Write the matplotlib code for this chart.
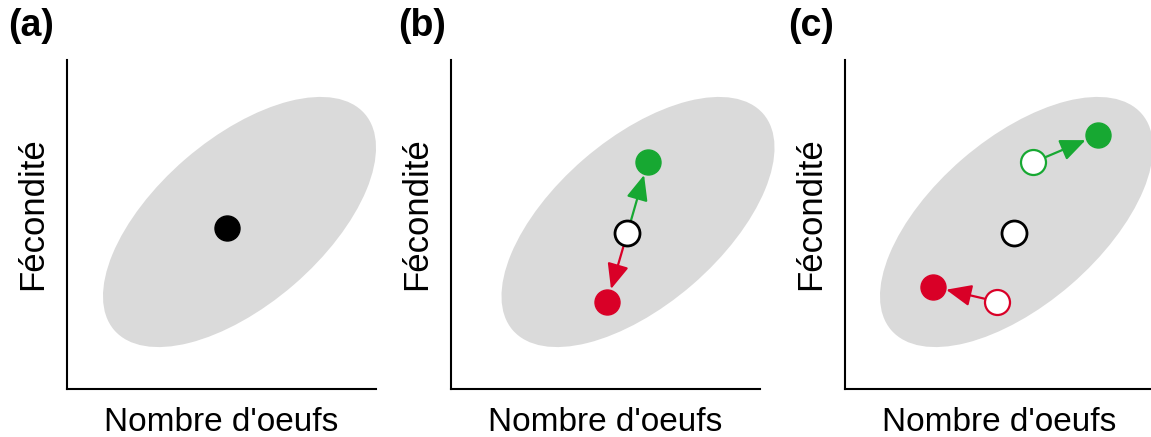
import matplotlib
matplotlib.use("Agg")
import matplotlib.pyplot as plt
from matplotlib.patches import Ellipse, FancyArrowPatch

plt.rcParams['font.family'] = ['Liberation Sans', 'DejaVu Sans']

# ---- data (arbitrary units, origin at axes corner) ----
panel_labels = ["(a)", "(b)", "(c)"]
xlabel = "Nombre d'oeufs"
ylabel = "Fécondité"
xlim = (0, 309)
ylim = (0, 329)

# ellipse (centre x, centre y, width, height, angle) per panel
ell_cx = [172.5, 187.0, 171.5]
ell_cy = [167.0, 167.0, 167.0]
ell_w = 331
ell_h = 166
ell_angle = 40.8

# panel a: mean phenotype
a_x = [160.3]
a_y = [161.3]

# panel b: centre (open black), green (up), red (down)
b_center = (176.3, 155.7)
b_green = (196.7, 226.7)
b_red = (156.3, 87.3)

# panel c: centre, green open -> green filled, red open -> red filled
c_center = (169.3, 155.7)
c_green_open = (188.3, 226.7)
c_green = (252.7, 254.0)
c_red_open = (152.3, 87.3)
c_red = (88.3, 102.3)

GREEN = "#17a832"
RED = "#d90027"
GRAY = "#dadada"

fig = plt.figure(figsize=(11.51, 4.37), dpi=100)
lefts = [67, 451, 845]
W, H = 1151, 437
axes = []
for i, l in enumerate(lefts):
    ax = fig.add_axes([l / W, (H - 389) / H, 309 / W, (389 - 60) / H])
    ax.set_xlim(*xlim)
    ax.set_ylim(*ylim)
    for s in ["top", "right"]:
        ax.spines[s].set_visible(False)
    for s in ["left", "bottom"]:
        ax.spines[s].set_linewidth(1.5)
    ax.set_xticks([])
    ax.set_yticks([])
    ax.set_xlabel(xlabel, fontsize=24, labelpad=13)
    ax.set_ylabel(ylabel, fontsize=25, labelpad=13)
    ax.yaxis.label.set_y(0.532)
    e = Ellipse((ell_cx[i], ell_cy[i]), ell_w, ell_h, angle=ell_angle,
                facecolor=GRAY, edgecolor="none", zorder=1, clip_on=False)
    ax.add_patch(e)
    fig.text((8 + i * 390) / W, 1 - 8 / H, panel_labels[i], fontsize=27,
             fontweight="bold", va="top", ha="left")
    axes.append(ax)

MS = 18


def arrow(ax, p0, p1, color):
    a = FancyArrowPatch(p0, p1, arrowstyle="-|>,head_length=0.7,head_width=0.3",
                        mutation_scale=22, color=color, lw=1.6,
                        shrinkA=9.5, shrinkB=9.5, zorder=3, clip_on=False)
    ax.add_patch(a)


# panel a
axes[0].plot(a_x, a_y, "o", ms=MS, color="black", zorder=5, clip_on=False)

# panel b
ax = axes[1]
arrow(ax, b_center, b_green, GREEN)
arrow(ax, b_center, b_red, RED)
ax.plot(*b_green, "o", ms=MS, color=GREEN, mec=GREEN, zorder=5)
ax.plot(*b_red, "o", ms=MS, color=RED, mec=RED, zorder=5)
ax.plot(*b_center, "o", ms=MS, mfc="white", mec="black", mew=2, zorder=5)

# panel c
ax = axes[2]
arrow(ax, c_green_open, c_green, GREEN)
arrow(ax, c_red_open, c_red, RED)
ax.plot(*c_green, "o", ms=MS, color=GREEN, mec=GREEN, zorder=5)
ax.plot(*c_red, "o", ms=MS, color=RED, mec=RED, zorder=5)
ax.plot(*c_green_open, "o", ms=MS, mfc="white", mec=GREEN, mew=1.6, zorder=5)
ax.plot(*c_red_open, "o", ms=MS, mfc="white", mec=RED, mew=1.6, zorder=5)
ax.plot(*c_center, "o", ms=MS, mfc="white", mec="black", mew=2, zorder=5)

fig.savefig("out.png", dpi=100)
